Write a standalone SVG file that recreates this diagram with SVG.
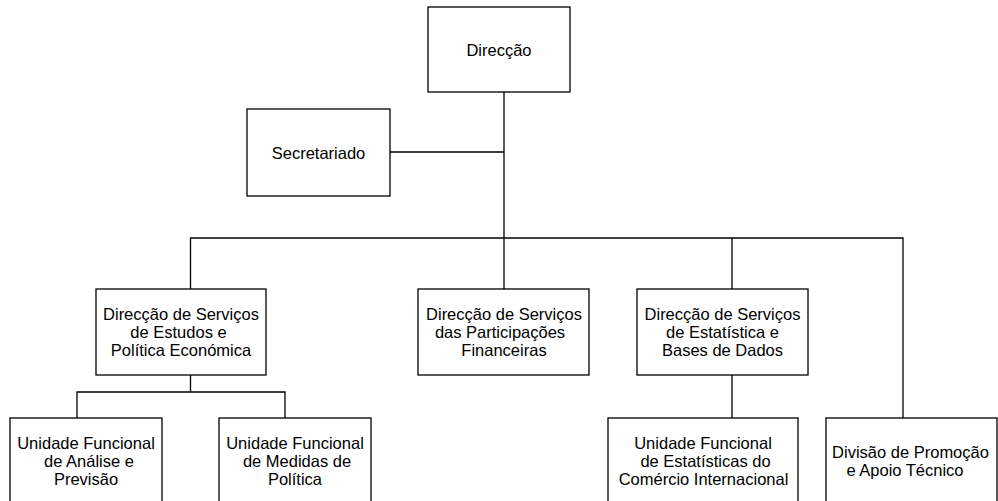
<svg xmlns="http://www.w3.org/2000/svg" width="998" height="501" viewBox="0 0 998 501">
<style>
.box{fill:#fff;stroke:#000;stroke-width:1.3}
.ln{fill:none;stroke:#000;stroke-width:1.3}
text{font-family:"Liberation Sans",Arial,sans-serif;font-size:16.5px;fill:#000;text-anchor:middle}
</style>
<rect width="998" height="501" fill="#fff"/>
<g id="connectors">
<path class="ln" d="M504,92 V289"/>
<path class="ln" d="M390,152 H504"/>
<path class="ln" d="M190.5,289 V238 H903 V418"/>
<path class="ln" d="M732,238 V289"/>
<path class="ln" d="M190.5,375 V392"/>
<path class="ln" d="M77,418 V392 H285 V418"/>
<path class="ln" d="M732,375 V418"/>
</g>
<g id="direccao">
<rect class="box" x="428" y="7" width="142" height="85"/>
<text x="499" y="56">Direcção</text>
</g>
<g id="secretariado">
<rect class="box" x="247" y="109" width="143" height="87"/>
<text x="318.5" y="159">Secretariado</text>
</g>
<g id="dsepe">
<rect class="box" x="96" y="289" width="170" height="86"/>
<text x="181" y="320">Direcção de Serviços</text>
<text x="178.5" y="338">de Estudos e</text>
<text x="181" y="356">Política Económica</text>
</g>
<g id="dspf">
<rect class="box" x="418" y="289" width="171" height="86"/>
<text x="504" y="320">Direcção de Serviços</text>
<text x="500" y="338">das Participações</text>
<text x="504" y="356">Financeiras</text>
</g>
<g id="dsebd">
<rect class="box" x="637" y="289" width="171" height="86"/>
<text x="722.5" y="320">Direcção de Serviços</text>
<text x="722.5" y="338">de Estatística e</text>
<text x="722.5" y="356">Bases de Dados</text>
</g>
<g id="ufap">
<rect class="box" x="10" y="418" width="152" height="110"/>
<text x="86" y="449">Unidade Funcional</text>
<text x="89" y="467">de Análise e</text>
<text x="86" y="485">Previsão</text>
</g>
<g id="ufmp">
<rect class="box" x="219" y="418" width="152" height="110"/>
<text x="295" y="449">Unidade Funcional</text>
<text x="297" y="467">de Medidas de</text>
<text x="295" y="485">Política</text>
</g>
<g id="ufeci">
<rect class="box" x="608" y="418" width="190" height="110"/>
<text x="703" y="449">Unidade Funcional</text>
<text x="705.5" y="467">de Estatísticas do</text>
<text x="703.5" y="485">Comércio Internacional</text>
</g>
<g id="dpat">
<rect class="box" x="826" y="418" width="171" height="110"/>
<text x="910.5" y="458">Divisão de Promoção</text>
<text x="905" y="476">e Apoio Técnico</text>
</g>
</svg>
